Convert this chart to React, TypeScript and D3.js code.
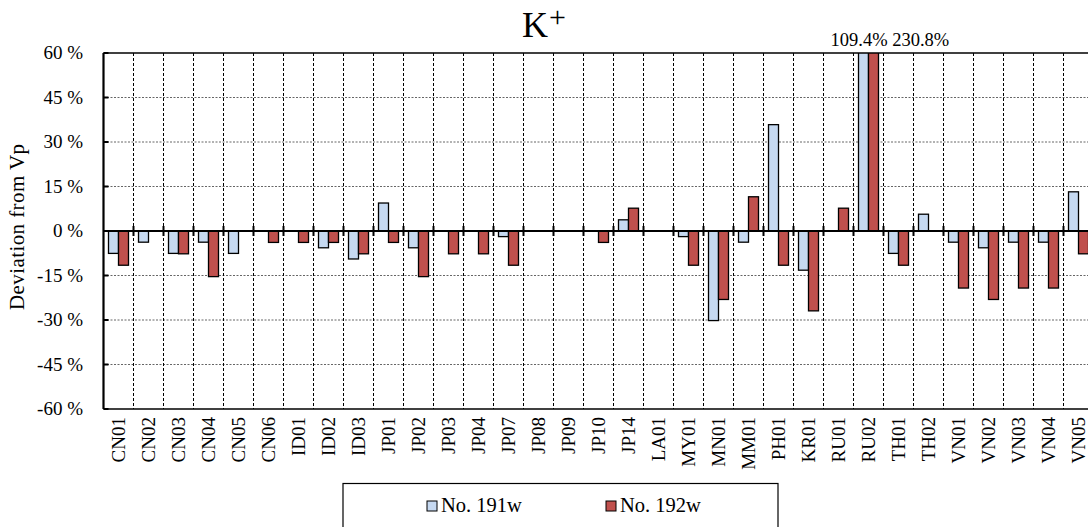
import React from "react";
import * as d3 from "d3";

const categories = [
  "CN01", "CN02", "CN03", "CN04", "CN05", "CN06", "ID01", "ID02", "ID03",
  "JP01", "JP02", "JP03", "JP04", "JP07", "JP08", "JP09", "JP10", "JP14",
  "LA01", "MY01", "MN01", "MM01", "PH01", "KR01", "RU01", "RU02",
  "TH01", "TH02", "VN01", "VN02", "VN03", "VN04", "VN05",
];

// No. 191w (blue)
const series191 = [
  -7.55, -3.77, -7.55, -3.77, -7.55, 0, 0, -5.66, -9.43,
  9.43, -5.66, 0, 0, -1.89, 0, 0, 0, 3.77,
  0, -1.89, -30.19, -3.77, 35.85, -13.21, 0, 109.4,
  -7.55, 5.66, -3.77, -5.66, -3.77, -3.77, 13.21,
];

// No. 192w (red)
const series192 = [
  -11.54, 0, -7.69, -15.38, 0, -3.85, -3.85, -3.85, -7.69,
  -3.85, -15.38, -7.69, -7.69, -11.54, 0, 0, -3.85, 7.69,
  0, -11.54, -23.08, 11.54, -11.54, -26.92, 7.69, 230.8,
  -11.54, 0, -19.23, -23.08, -19.23, -19.23, -7.69,
];

const seriesNames = ["No. 191w", "No. 192w"];
const seriesColors = ["#c6d9f1", "#c0504d"];
const yTicks = [-60, -45, -30, -15, 0, 15, 30, 45, 60];
const overflowLabel = "109.4% 230.8%";
const overflowCategory = "RU02";

const W = 1088;
const H = 527;
const FONT = "'Liberation Serif', 'Times New Roman', serif";

export default function App() {
  const left = 103.5;
  const top = 53;
  const bottom = 409;
  const right = left + 30 * categories.length;

  const x = d3
    .scaleBand<string>()
    .domain(categories)
    .range([left, right])
    .paddingInner(1 / 3)
    .paddingOuter(1 / 6);
  const step = x.step();
  const xs = d3
    .scaleBand<string>()
    .domain(seriesNames)
    .range([0, x.bandwidth()]);
  const y = d3.scaleLinear().domain([-60, 60]).range([bottom, top]);
  const y0 = y(0);

  const data = [series191, series192];
  const boundaries = d3.range(1, categories.length + 1).map((i) => left + i * step);

  const ovX = (x(overflowCategory) as number) - 28;

  return (
    <svg
      width={W}
      height={H}
      style={{ position: "absolute", left: 0, top: 0, background: "#fff" }}
      fontFamily={FONT}
    >
      <rect x={0} y={0} width={W} height={H} fill="#fff" />
      <defs>
        <clipPath id="plotClip">
          <rect x={left} y={top} width={right - left} height={bottom - top} />
        </clipPath>
      </defs>

      {/* Title */}
      <text x={522} y={37} fontSize={36} fill="#000">
        K<tspan fontSize={30} dx={1} dy={-10}>+</tspan>
      </text>

      {/* horizontal grid */}
      {yTicks
        .filter((t) => t !== 0 && t !== 60 && t !== -60)
        .map((t) => (
          <line
            key={"h" + t}
            x1={left}
            x2={right}
            y1={y(t)}
            y2={y(t)}
            stroke="#666"
            strokeWidth={1}
            strokeDasharray="2,1.5"
          />
        ))}
      {/* vertical grid */}
      {boundaries.map((bx, i) => (
        <line
          key={"v" + i}
          x1={bx}
          x2={bx}
          y1={top}
          y2={bottom}
          stroke="#000"
          strokeWidth={1}
          strokeDasharray="3,2"
        />
      ))}

      {/* bars */}
      <g clipPath="url(#plotClip)">
        {categories.map((c, i) =>
          data.map((s, k) => {
            const v = s[i];
            if (v === 0) return null;
            const bx = (x(c) as number) + (xs(seriesNames[k]) as number);
            const yv = y(v);
            return (
              <rect
                key={c + k}
                x={bx}
                y={Math.min(yv, y0)}
                width={xs.bandwidth()}
                height={Math.abs(yv - y0)}
                fill={seriesColors[k]}
                stroke="#000"
                strokeWidth={1.3}
              />
            );
          })
        )}
      </g>

      {/* zero axis */}
      <line x1={left} x2={right} y1={y0} y2={y0} stroke="#000" strokeWidth={2} />
      {boundaries.map((bx, i) => (
        <line
          key={"t" + i}
          x1={bx}
          x2={bx}
          y1={y0 - 5}
          y2={y0 + 5}
          stroke="#000"
          strokeWidth={2}
        />
      ))}

      {/* borders */}
      <line x1={left} x2={right} y1={top} y2={top} stroke="#000" strokeWidth={1.5} />
      <line x1={left} x2={right} y1={bottom} y2={bottom} stroke="#000" strokeWidth={1.5} />
      <line x1={left} x2={left} y1={top} y2={bottom} stroke="#000" strokeWidth={2.2} />
      {yTicks.map((t) => (
        <line
          key={"yt" + t}
          x1={left}
          x2={left + 5}
          y1={y(t)}
          y2={y(t)}
          stroke="#000"
          strokeWidth={2}
        />
      ))}

      {/* y tick labels */}
      {yTicks.map((t) => (
        <text
          key={"yl" + t}
          x={83}
          y={y(t)}
          dy="0.33em"
          textAnchor="end"
          fontSize={19}
          fill="#000"
        >
          {`${t} %`}
        </text>
      ))}

      {/* y axis title */}
      <text
        transform={`translate(24,${(top + bottom) / 2 - 4}) rotate(-90)`}
        textAnchor="middle"
        fontSize={21}
        textLength={166}
        lengthAdjust="spacing"
        fill="#000"
      >
        Deviation from Vp
      </text>

      {/* x labels */}
      {categories.map((c) => (
        <text
          key={"xl" + c}
          transform={`translate(${(x(c) as number) + x.bandwidth() / 2},417) rotate(-90)`}
          textAnchor="end"
          dy="0.34em"
          fontSize={19}
          fill="#000"
        >
          {c}
        </text>
      ))}

      {/* overflow label */}
      <text x={ovX} y={45.5} fontSize={18.5} fill="#000">
        {overflowLabel}
      </text>

      {/* legend */}
      <rect x={343} y={483.5} width={435} height={60} fill="#fff" stroke="#000" strokeWidth={1.2} />
      {seriesNames.map((n, k) => {
        const lx = k === 0 ? 427 : 606;
        return (
          <g key={n}>
            <rect
              x={lx}
              y={501}
              width={10}
              height={10}
              fill={seriesColors[k]}
              stroke="#000"
              strokeWidth={1}
            />
            <text x={lx + 14} y={512} fontSize={20.5} fill="#000">
              {n}
            </text>
          </g>
        );
      })}
    </svg>
  );
}
